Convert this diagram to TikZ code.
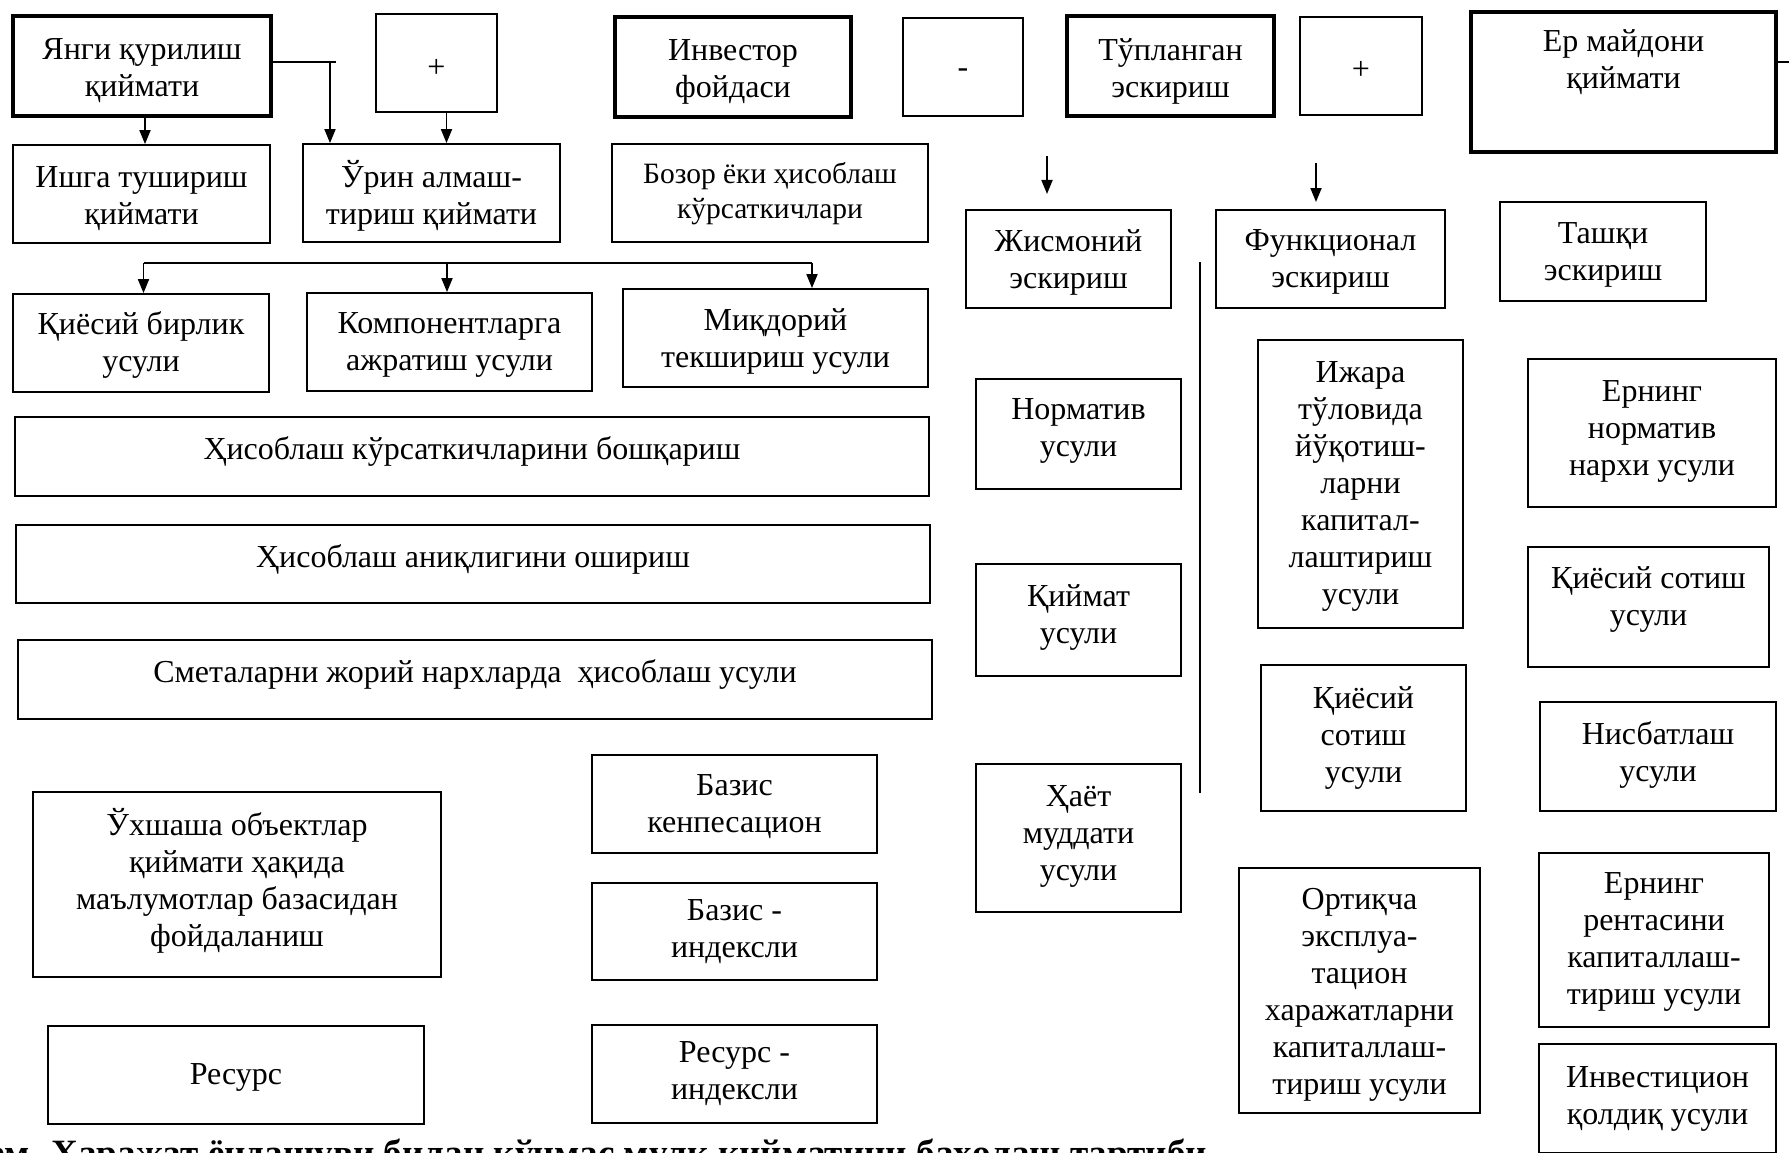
\documentclass[tikz,border=0pt]{standalone}
\usepackage{fontspec}
\setmainfont{Liberation Serif}
\usetikzlibrary{arrows.meta}
\tikzset{
  bx/.style={draw, line width=1.8pt, inner sep=0pt},
  thickbx/.style={bx, line width=4.5pt},
  txt/.style={inner sep=0pt, align=center, font=\fontsize{32}{37}\selectfont},
  smalltxt/.style={inner sep=0pt, align=center, font=\fontsize{29.5}{35}\selectfont},
  arr/.style={line width=1.8pt, -{Triangle[width=11pt,length=14pt]}},
  ln/.style={line width=1.8pt},
}
% \mybox[text shift]{box style}{x1}{y1}{x2}{y2}{name}{text}
\newcommand\mybox[8][0]{%
  \node[#2, minimum width={#5-#3}, minimum height={#6-#4}] (#7) at ({(#3+#5)/2},{(#4+#6)/2}) {};
  \node[txt] (#7-t) at ([yshift={-(#1)*1pt}]#7.center) {#8};}
\begin{document}
\begin{tikzpicture}[x=1pt,y=-1pt]
\useasboundingbox (0,0) rectangle (1789,1153);
% top row
\mybox[5]{thickbx}{13}{16}{271}{116}{yangi}{Янги қурилиш\\қиймати}
\mybox[5]{bx}{376}{14}{497}{112}{plusa}{+}
\mybox[5]{thickbx}{615}{17}{851}{117}{invest}{Инвестор\\фойдаси}
\mybox[6]{bx}{903}{18}{1023}{116}{minus}{-}
\mybox[5]{thickbx}{1067}{16}{1274}{116}{tupl}{Тўпланган\\эскириш}
\mybox[4]{bx}{1300}{17}{1422}{115}{plusb}{+}
\node[thickbx, minimum width=305, minimum height=140] (yer) at (1623.5,82) {};
\node[txt, anchor=north] (yer-t) at ([yshift=-20pt]yer.north) {Ер майдони\\қиймати};
% second row
\mybox[5]{bx}{13}{145}{270}{243}{ishga}{Ишга тушириш\\қиймати}
\mybox[3]{bx}{303}{144}{560}{242}{urin}{Ўрин алмаш-\\тириш қиймати}
\node[bx, minimum width=316, minimum height=98] (bozor) at (770,193) {};
\node[smalltxt] (bozor-t) at ([yshift=-1pt]bozor.center) {Бозор ёки ҳисоблаш\\кўрсаткичлари};
% third row
\mybox[2]{bx}{13}{294}{269}{392}{qiyosiy}{Қиёсий бирлик\\усули}
\mybox[3]{bx}{307}{293}{592}{391}{komp}{Компонентларга\\ажратиш усули}
\mybox[3]{bx}{623}{289}{928}{387}{miqdor}{Миқдорий\\текшириш усули}
% wide boxes
\mybox[-5]{bx}{15}{417}{929}{496}{hisoba}{Ҳисоблаш кўрсаткичларини бошқариш}
\mybox[-5]{bx}{16}{525}{930}{603}{hisobb}{Ҳисоблаш аниқлигини ошириш}
\mybox[-5]{bx}{18}{640}{932}{719}{smeta}{Сметаларни жорий нархларда\ \ ҳисоблаш усули}
% lower left
\mybox[-4]{bx}{33}{792}{441}{977}{uxshash}{Ўхшаша объектлар\\қиймати ҳақида\\маълумотлар базасидан\\фойдаланиш}
\mybox[2]{bx}{48}{1026}{424}{1124}{resurs}{Ресурс}
\mybox[3]{bx}{592}{755}{877}{853}{bazisa}{Базис\\кенпесацион}
\mybox[0]{bx}{592}{883}{877}{980}{bazisb}{Базис -\\индексли}
\mybox[0]{bx}{592}{1025}{877}{1123}{resursb}{Ресурс -\\индексли}
% depreciation
\mybox[3]{bx}{966}{210}{1171}{308}{jism}{Жисмоний\\эскириш}
\mybox[3]{bx}{1216}{210}{1445}{308}{funk}{Функционал\\эскириш}
\mybox[3]{bx}{1500}{202}{1706}{301}{tashqi}{Ташқи\\эскириш}
\mybox[-3]{bx}{976}{379}{1181}{489}{norm}{Норматив\\усули}
\mybox[-3]{bx}{976}{564}{1181}{676}{qiymat}{Қиймат\\усули}
\mybox[-2]{bx}{976}{764}{1181}{912}{hayot}{Ҳаёт\\муддати\\усули}
\mybox[2]{bx}{1258}{340}{1463}{628}{ijara}{Ижара\\тўловида\\йўқотиш-\\ларни\\капитал-\\лаштириш\\усули}
\mybox[0]{bx}{1261}{665}{1466}{811}{qiyosiyb}{Қиёсий\\сотиш\\усули}
\mybox[4]{bx}{1239}{868}{1480}{1113}{ortiq}{Ортиқча\\эксплуа-\\тацион\\харажатларни\\капиталлаш-\\тириш усули}
% land
\mybox[-2]{bx}{1528}{359}{1776}{507}{yern}{Ернинг\\норматив\\нархи усули}
\mybox[-8]{bx}{1528}{547}{1769}{667}{qiyosiyc}{Қиёсий сотиш\\усули}
\mybox[-2]{bx}{1540}{702}{1776}{811}{nisbat}{Нисбатлаш\\усули}
\mybox[2]{bx}{1539}{853}{1769}{1027}{renta}{Ернинг\\рентасини\\капиталлаш-\\тириш усули}
\mybox[0]{bx}{1539}{1044}{1776}{1153}{investb}{Инвестицион\\қолдиқ усули}
% caption (cut by the lower edge, as in the reference)
\node[inner sep=0pt, anchor=base west, font=\fontsize{37.1}{40}\selectfont\bfseries] (cap) at (-12,1165) {ем. Харажат ёндашуви билан кўчмас мулк қийматини баҳолаш тартиби};
% connectors
\coordinate (ja) at (336,62);
\coordinate (jb) at (330,62);
\draw[ln] (yangi.east |- ja) -- (ja);
\draw[arr] (jb) -- (jb |- urin.north);
\draw[arr] (yangi.south -| 145,0) -- (ishga.north -| 145,0);
\draw[arr] ([xshift=10pt]plusa.south) -- ([xshift=10pt]plusa.south |- urin.north);
\coordinate (ha) at (143.5,263);
\coordinate (hb) at (447,263);
\coordinate (hc) at (812,263);
\draw[ln] (ha) -- (hc);
\draw[arr] (ha) -- (ha |- qiyosiy.north);
\draw[arr] (hb) -- (hb |- komp.north);
\draw[arr] (hc) -- (hc |- miqdor.north);
\coordinate (da) at (1047,156);
\coordinate (db) at (1047,194);
\draw[arr] (da) -- (db);
\coordinate (dc) at (1316,163);
\coordinate (dd) at (1316,202);
\draw[arr] (dc) -- (dd);
\coordinate (va) at (1200,262);
\coordinate (vb) at (1200,793);
\draw[ln] (va) -- (vb);
\coordinate (ye) at (1789,62);
\draw[ln] (yer.east |- ye) -- (ye);
\end{tikzpicture}
\end{document}
